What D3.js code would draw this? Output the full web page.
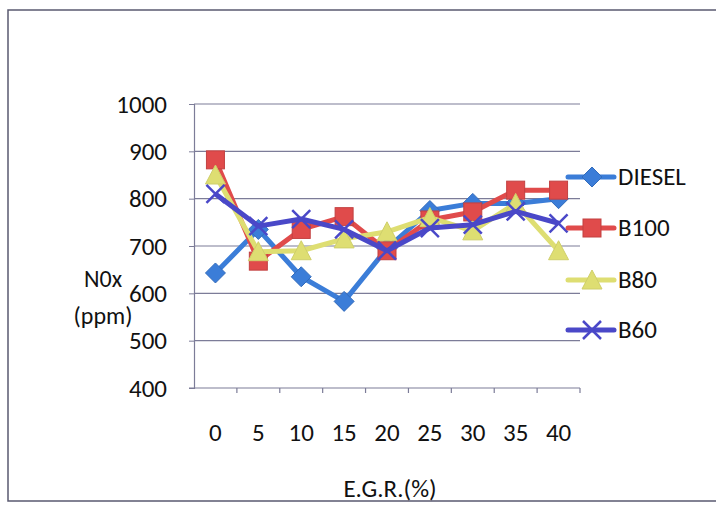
<!DOCTYPE html>
<html>
<head>
<meta charset="utf-8">
<script src="https://cdn.jsdelivr.net/npm/d3@7"></script>
<style>
  body { margin: 0; background: #fff; }
  text { font-family: Carlito, Calibri, Lato, sans-serif; fill: #111; }
</style>
</head>
<body>
<svg id="chart" width="716" height="510"></svg>
<script>
// E.G.R. levels (%)
var egr = ["0", "5", "10", "15", "20", "25", "30", "35", "40"];
var yTicks = [400, 500, 600, 700, 800, 900, 1000];

// NOx (ppm)
var diesel = [643, 735, 635, 583, 695, 775, 790, 790, 800];
var b100   = [882, 668, 735, 762, 690, 755, 772, 818, 818];
var b80    = [850, 688, 690, 715, 730, 760, 732, 790, 690];
var b60    = [810, 742, 757, 735, 690, 738, 745, 773, 748];

var seriesNames = ["DIESEL", "B100", "B80", "B60"];
var colors = ["#3b7dd8", "#e04b4b", "#dede72", "#4a48c8"];
var shapes = ["diamond", "square", "triangle", "cross"];
var fs = "25px";

var svg = d3.select("#chart");

// outer frame (only top, left, bottom are visible in the photo)
svg.append("path")
  .attr("d", "M716,10 L8,10 L8,501 L716,501")
  .attr("fill", "none").attr("stroke", "#5a5a70").attr("stroke-width", 1.5);

var x = d3.scaleBand().domain(egr).range([194, 580]).padding(0);
var y = d3.scaleLinear().domain([400, 1000]).range([388, 104]);
var cx = function(d, i) { return x(egr[i]) + x.bandwidth() / 2; };

// gridlines
svg.append("g").selectAll("line").data(yTicks.slice(1)).enter().append("line")
  .attr("x1", 194).attr("x2", 580)
  .attr("y1", function(d) { return y(d); }).attr("y2", function(d) { return y(d); })
  .attr("stroke", "#7c7c98").attr("stroke-width", 1.2);

// y axis
var yAxis = svg.append("g").attr("transform", "translate(194,0)")
  .call(d3.axisLeft(y).tickValues(yTicks).tickFormat(d3.format("d")).tickSize(5).tickPadding(22));
yAxis.select(".domain").attr("stroke", "#7c7c98").attr("stroke-width", 1.2);
yAxis.selectAll(".tick line").attr("stroke", "#7c7c98");
yAxis.selectAll("text").style("font-size", fs).attr("fill", "#111")
  .style("font-family", "Carlito, Calibri, Lato, sans-serif");

// x axis: labels centered on categories, ticks on the category boundaries
svg.append("line").attr("x1", 189).attr("x2", 580).attr("y1", y(400)).attr("y2", y(400))
  .attr("stroke", "#7c7c98").attr("stroke-width", 1.2);
svg.append("g").selectAll("line").data(egr).enter().append("line")
  .attr("x1", function(d) { return x(d) + x.bandwidth(); })
  .attr("x2", function(d) { return x(d) + x.bandwidth(); })
  .attr("y1", y(400)).attr("y2", y(400) + 5)
  .attr("stroke", "#7c7c98").attr("stroke-width", 1.2);
svg.append("g").selectAll("text").data(egr).enter().append("text")
  .attr("x", function(d) { return x(d) + x.bandwidth() / 2; })
  .attr("y", 441)
  .attr("text-anchor", "middle")
  .style("font-size", fs)
  .text(function(d) { return d; });

// axis titles
svg.append("text").attr("x", 390).attr("y", 497).attr("text-anchor", "middle")
  .style("font-size", fs).text("E.G.R.(%)");
svg.append("text").attr("x", 103).attr("y", 287).attr("text-anchor", "middle")
  .style("font-size", "24px").text("N0x");
svg.append("text").attr("x", 103).attr("y", 324).attr("text-anchor", "middle")
  .style("font-size", "24px").text("(ppm)");

function drawMarker(g, shape, px, py, color) {
  if (shape == "diamond") {
    g.append("path").attr("d", "M" + px + "," + (py - 10) + " L" + (px + 10) + "," + py +
        " L" + px + "," + (py + 10) + " L" + (px - 10) + "," + py + "Z")
      .attr("fill", color).attr("stroke", d3.color(color).darker(0.4));
  } else if (shape == "square") {
    g.append("rect").attr("x", px - 9).attr("y", py - 9).attr("width", 18).attr("height", 18)
      .attr("fill", color).attr("stroke", d3.color(color).darker(0.4));
  } else if (shape == "triangle") {
    g.append("path").attr("d", "M" + px + "," + (py - 10) + " L" + (px + 10) + "," + (py + 9) +
        " L" + (px - 10) + "," + (py + 9) + "Z")
      .attr("fill", color).attr("stroke", d3.color(color).darker(0.2));
  } else {
    g.append("path").attr("d", "M" + (px - 9) + "," + (py - 9) + " L" + (px + 9) + "," + (py + 9) +
        " M" + (px + 9) + "," + (py - 9) + " L" + (px - 9) + "," + (py + 9))
      .attr("stroke", color).attr("stroke-width", 2.5);
  }
}

var allSeries = [diesel, b100, b80, b60];
var line = d3.line().x(cx).y(function(d) { return y(d); });

// draw so that B60 ends on top, like the picture
allSeries.forEach(function(vals, k) {
  var g = svg.append("g");
  g.append("path").datum(vals).attr("d", line)
    .attr("fill", "none").attr("stroke", colors[k]).attr("stroke-width", 5)
    .attr("stroke-linejoin", "round");
  vals.forEach(function(v, i) { drawMarker(g, shapes[k], cx(v, i), y(v), colors[k]); });
});

// legend
var legendY = [177, 228, 280, 330];
seriesNames.forEach(function(name, k) {
  var g = svg.append("g");
  g.append("line").attr("x1", 568).attr("x2", 614).attr("y1", legendY[k]).attr("y2", legendY[k])
    .attr("stroke", colors[k]).attr("stroke-width", 5).attr("stroke-linecap", "round");
  drawMarker(g, shapes[k], 592, legendY[k], colors[k]);
  g.append("text").attr("x", 618).attr("y", legendY[k] + 8)
    .style("font-size", fs).text(name);
});
</script>
</body>
</html>
